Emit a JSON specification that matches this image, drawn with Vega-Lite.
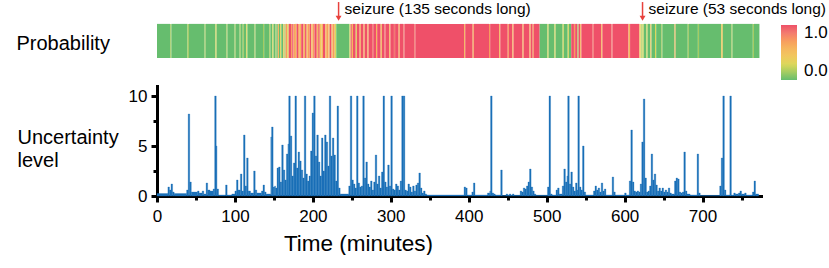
{
 "$schema": "https://vega.github.io/schema/vega-lite/v6.json",
 "padding": {"left": 16, "top": 0, "right": 0, "bottom": 0},
 "bounds": "flush",
 "spacing": 28,
 "config": {"font": "Liberation Sans", "view": {"stroke": null}},
 "datasets": {
  "ann": [{"t": 233, "label": "seizure (135 seconds long)"}, {"t": 623, "label": "seizure (53 seconds long)"}],
  "heat": [
   {"s":0,"e":17,"p":0},{"s":17,"e":18.5,"p":0.143},{"s":18.5,"e":39,"p":0},{"s":39,"e":41,"p":0.143},{"s":41,"e":61,"p":0},{"s":61,"e":62.5,"p":0.143},{"s":62.5,"e":75,"p":0},{"s":75,"e":76.5,"p":0.286},{"s":76.5,"e":89,"p":0},{"s":89,"e":90.5,"p":0.143},{"s":90.5,"e":99.5,"p":0},{"s":99.5,"e":101,"p":0.143},{"s":101,"e":106,"p":0},{"s":106,"e":107.5,"p":0.143},{"s":107.5,"e":110,"p":0},{"s":110,"e":111.5,"p":0.143},{"s":111.5,"e":114.5,"p":0},{"s":114.5,"e":116,"p":0.286},{"s":116,"e":125,"p":0},{"s":125,"e":126.5,"p":0.143},{"s":126.5,"e":136,"p":0},{"s":136,"e":137.5,"p":0.143},{"s":137.5,"e":144,"p":0},{"s":144,"e":145.5,"p":0.143},{"s":145.5,"e":148,"p":0},{"s":148,"e":149.5,"p":0.286},{"s":149.5,"e":152,"p":0},{"s":152,"e":153.5,"p":0.143},{"s":153.5,"e":155,"p":0},{"s":155,"e":156.5,"p":0.571},{"s":156.5,"e":158,"p":0},{"s":158,"e":159.5,"p":0.286},{"s":159.5,"e":162,"p":0},{"s":162,"e":163.5,"p":0.429},{"s":163.5,"e":165,"p":0.143},{"s":165,"e":167,"p":0.714},{"s":167,"e":169,"p":0.286},{"s":169,"e":172,"p":1},{"s":172,"e":173.5,"p":0.714},{"s":173.5,"e":175,"p":1},{"s":175,"e":177,"p":0.714},{"s":177,"e":179,"p":0.571},{"s":179,"e":181,"p":1},{"s":181,"e":183,"p":0.714},{"s":183,"e":185,"p":0.571},{"s":185,"e":188,"p":1},{"s":188,"e":190,"p":0.571},{"s":190,"e":192,"p":1},{"s":192,"e":193.5,"p":0.429},{"s":193.5,"e":196,"p":0.714},{"s":196,"e":198,"p":1},{"s":198,"e":199.5,"p":0.429},{"s":199.5,"e":202,"p":0.714},{"s":202,"e":205,"p":1},{"s":205,"e":206.5,"p":0.571},{"s":206.5,"e":209,"p":0.857},{"s":209,"e":211,"p":0.429},{"s":211,"e":213,"p":0.571},{"s":213,"e":216,"p":1},{"s":216,"e":218,"p":0.571},{"s":218,"e":220,"p":0.714},{"s":220,"e":221.5,"p":0.429},{"s":221.5,"e":224,"p":1},{"s":224,"e":225.5,"p":0.429},{"s":225.5,"e":228,"p":0.714},{"s":228,"e":230,"p":0.286},{"s":230,"e":247,"p":0},{"s":247,"e":248.5,"p":0.286},{"s":248.5,"e":250,"p":1},{"s":250,"e":251.5,"p":0.571},{"s":251.5,"e":255,"p":1},{"s":255,"e":256.5,"p":0.286},{"s":256.5,"e":260,"p":1},{"s":260,"e":261.5,"p":0.571},{"s":261.5,"e":265,"p":1},{"s":265,"e":266.5,"p":0.571},{"s":266.5,"e":270,"p":1},{"s":270,"e":271.5,"p":0.571},{"s":271.5,"e":276,"p":1},{"s":276,"e":277.5,"p":0.857},{"s":277.5,"e":281,"p":1},{"s":281,"e":282.5,"p":0.571},{"s":282.5,"e":287,"p":1},{"s":287,"e":288.5,"p":0.429},{"s":288.5,"e":292,"p":1},{"s":292,"e":293.5,"p":0.857},{"s":293.5,"e":298,"p":1},{"s":298,"e":299.5,"p":0.571},{"s":299.5,"e":304,"p":1},{"s":304,"e":305.5,"p":0.857},{"s":305.5,"e":310,"p":1},{"s":310,"e":311.5,"p":0.571},{"s":311.5,"e":316,"p":1},{"s":316,"e":317.5,"p":0.857},{"s":317.5,"e":330,"p":1},{"s":330,"e":331.5,"p":0.857},{"s":331.5,"e":394,"p":1},{"s":394,"e":395.5,"p":0.571},{"s":395.5,"e":405,"p":1},{"s":405,"e":406.5,"p":0.571},{"s":406.5,"e":426,"p":1},{"s":426,"e":427.5,"p":0.714},{"s":427.5,"e":439,"p":1},{"s":439,"e":440.5,"p":0.571},{"s":440.5,"e":450,"p":1},{"s":450,"e":451.5,"p":0.714},{"s":451.5,"e":456,"p":1},{"s":456,"e":457.5,"p":0.571},{"s":457.5,"e":469,"p":1},{"s":469,"e":470.5,"p":0.571},{"s":470.5,"e":478,"p":1},{"s":478,"e":479.5,"p":0.571},{"s":479.5,"e":482,"p":1},{"s":482,"e":483.5,"p":0.714},{"s":483.5,"e":491,"p":1},{"s":491,"e":501,"p":0},{"s":501,"e":502.5,"p":0.286},{"s":502.5,"e":510,"p":0},{"s":510,"e":511.5,"p":0.286},{"s":511.5,"e":520.5,"p":0},{"s":520.5,"e":522,"p":0.286},{"s":522,"e":527,"p":0},{"s":527,"e":528.5,"p":0.286},{"s":528.5,"e":531.5,"p":0},{"s":531.5,"e":535,"p":1},{"s":535,"e":536.5,"p":0.714},{"s":536.5,"e":539.5,"p":1},{"s":539.5,"e":541,"p":0.143},{"s":541,"e":543,"p":1},{"s":543,"e":544.5,"p":0.571},{"s":544.5,"e":559,"p":1},{"s":559,"e":560.5,"p":0.857},{"s":560.5,"e":570,"p":1},{"s":570,"e":571.5,"p":0.571},{"s":571.5,"e":583,"p":1},{"s":583,"e":584.5,"p":0.857},{"s":584.5,"e":605,"p":1},{"s":605,"e":607,"p":0.571},{"s":607,"e":619,"p":1},{"s":619,"e":620.5,"p":0.429},{"s":620.5,"e":621.5,"p":0.286},{"s":621.5,"e":623,"p":0.143},{"s":623,"e":624.5,"p":0.286},{"s":624.5,"e":628,"p":0},{"s":628,"e":629.5,"p":0.286},{"s":629.5,"e":633,"p":0},{"s":633,"e":634.5,"p":0.429},{"s":634.5,"e":639,"p":0},{"s":639,"e":640.5,"p":0.286},{"s":640.5,"e":647,"p":0},{"s":647,"e":648.5,"p":0.143},{"s":648.5,"e":664,"p":0},{"s":664,"e":665.5,"p":0.571},{"s":665.5,"e":681,"p":0},{"s":681,"e":682.5,"p":0.143},{"s":682.5,"e":694,"p":0},{"s":694,"e":695.5,"p":0.143},{"s":695.5,"e":724,"p":0},{"s":724,"e":726,"p":0.429},{"s":726,"e":737,"p":0},{"s":737,"e":738.5,"p":0.143},{"s":738.5,"e":764.5,"p":0},{"s":764.5,"e":766,"p":0.143},{"s":766,"e":773,"p":0}
  ],
  "bars": [
   {"s":0,"e":14,"v":0.25},{"s":14,"e":16,"v":0.9},{"s":16,"e":18,"v":0.6},{"s":18,"e":20,"v":1.2},{"s":20,"e":22,"v":0.4},{"s":22,"e":38,"v":0.25},{"s":38,"e":40,"v":0.6},{"s":40,"e":42,"v":8.2},{"s":42,"e":44,"v":1.4},{"s":44,"e":52,"v":0.4},{"s":52,"e":54,"v":0.5},{"s":54,"e":58,"v":0.3},{"s":58,"e":60,"v":0.5},{"s":60,"e":63,"v":0.2},{"s":63,"e":65,"v":1.3},{"s":65,"e":68,"v":0.6},{"s":68,"e":72,"v":0.5},{"s":72,"e":74,"v":0.7},{"s":74,"e":76,"v":10},{"s":76,"e":77,"v":5},{"s":77,"e":79,"v":0.7},{"s":79,"e":88,"v":0.1},{"s":88,"e":90,"v":1.1},{"s":90,"e":96,"v":0.1},{"s":96,"e":100,"v":0.2},{"s":100,"e":102,"v":0.5},{"s":102,"e":104,"v":1.6},{"s":104,"e":107,"v":0.6},{"s":107,"e":109,"v":2.2},{"s":109,"e":111,"v":0.5},{"s":111,"e":113,"v":6.1},{"s":113,"e":115,"v":1.0},{"s":115,"e":117,"v":3.8},{"s":117,"e":120,"v":0.5},{"s":120,"e":124,"v":0.3},{"s":124,"e":126,"v":2.5},{"s":126,"e":128,"v":0.6},{"s":128,"e":134,"v":0.3},{"s":134,"e":136,"v":0.5},{"s":136,"e":138,"v":1.1},{"s":138,"e":140,"v":0.4},{"s":140,"e":146,"v":0.2},{"s":146,"e":147,"v":5.9},{"s":147,"e":149,"v":6.9},{"s":149,"e":151,"v":0.9},
   {"s":151,"e":152,"v":1.0},{"s":152,"e":154,"v":0.8},{"s":154,"e":156,"v":2.8},{"s":156,"e":158,"v":2.9},{"s":158,"e":160,"v":1.4},{"s":160,"e":162,"v":5.1},{"s":162,"e":164,"v":2.6},{"s":164,"e":166,"v":1.6},{"s":166,"e":168,"v":4.2},{"s":168,"e":169,"v":5.2},{"s":169,"e":171,"v":10},{"s":171,"e":173,"v":6.0},{"s":173,"e":175,"v":2.0},{"s":175,"e":177,"v":3.3},{"s":177,"e":179,"v":10},{"s":179,"e":181,"v":2.8},{"s":181,"e":183,"v":4.4},{"s":183,"e":185,"v":3.5},{"s":185,"e":187,"v":2.6},{"s":187,"e":189,"v":1.8},{"s":189,"e":191,"v":10},{"s":191,"e":193,"v":2.2},{"s":193,"e":195,"v":1.5},{"s":195,"e":197,"v":2.0},{"s":197,"e":199,"v":4.5},{"s":199,"e":201,"v":8.3},{"s":201,"e":203,"v":10},{"s":203,"e":205,"v":4.0},{"s":205,"e":207,"v":6.1},{"s":207,"e":209,"v":3.4},{"s":209,"e":211,"v":2.0},{"s":211,"e":213,"v":5.8},{"s":213,"e":215,"v":2.5},{"s":215,"e":217,"v":6.1},{"s":217,"e":219,"v":5.4},{"s":219,"e":221,"v":3.0},{"s":221,"e":223,"v":10},{"s":223,"e":225,"v":4.0},{"s":225,"e":227,"v":5.8},{"s":227,"e":229,"v":4.1},{"s":229,"e":231,"v":1.5},{"s":231,"e":233,"v":9.0},{"s":233,"e":235,"v":0.8},{"s":235,"e":246,"v":0.2},
   {"s":246,"e":248,"v":1.0},{"s":248,"e":250,"v":10},{"s":250,"e":252,"v":1.6},{"s":252,"e":254,"v":1.2},{"s":254,"e":256,"v":0.8},{"s":256,"e":258,"v":10},{"s":258,"e":260,"v":1.3},{"s":260,"e":262,"v":0.9},{"s":262,"e":264,"v":1.0},{"s":264,"e":266,"v":10},{"s":266,"e":268,"v":1.8},{"s":268,"e":270,"v":3.4},{"s":270,"e":272,"v":1.2},{"s":272,"e":274,"v":0.9},{"s":274,"e":276,"v":1.5},{"s":276,"e":278,"v":0.6},{"s":278,"e":280,"v":1.4},{"s":280,"e":282,"v":4.1},{"s":282,"e":284,"v":1.2},{"s":284,"e":286,"v":2.0},{"s":286,"e":288,"v":0.8},{"s":288,"e":290,"v":2.4},{"s":290,"e":292,"v":10},{"s":292,"e":294,"v":1.4},{"s":294,"e":296,"v":0.9},{"s":296,"e":298,"v":3.1},{"s":298,"e":300,"v":1.0},{"s":300,"e":302,"v":10},{"s":302,"e":304,"v":0.7},{"s":304,"e":306,"v":0.6},{"s":306,"e":308,"v":1.2},{"s":308,"e":310,"v":1.0},{"s":310,"e":312,"v":0.6},{"s":312,"e":314,"v":1.5},{"s":314,"e":316,"v":10},{"s":316,"e":318,"v":10},{"s":318,"e":320,"v":0.6},{"s":320,"e":322,"v":0.5},{"s":322,"e":324,"v":1.2},{"s":324,"e":326,"v":0.9},{"s":326,"e":328,"v":0.4},{"s":328,"e":330,"v":1.0},{"s":330,"e":332,"v":0.5},{"s":332,"e":334,"v":1.1},{"s":334,"e":336,"v":1.3},{"s":336,"e":338,"v":2.3},{"s":338,"e":340,"v":0.8},{"s":340,"e":342,"v":0.3},{"s":342,"e":344,"v":0.5},{"s":344,"e":346,"v":0.2},{"s":346,"e":394,"v":0.1},
   {"s":394,"e":396,"v":0.9},{"s":396,"e":398,"v":0.8},{"s":398,"e":404,"v":0.1},{"s":404,"e":406,"v":0.4},{"s":406,"e":408,"v":1.3},{"s":408,"e":424,"v":0.1},{"s":424,"e":427,"v":0.3},{"s":427,"e":428,"v":0.5},{"s":428,"e":430,"v":10},{"s":430,"e":432,"v":0.3},{"s":432,"e":434,"v":0.2},{"s":434,"e":441,"v":0.1},{"s":441,"e":443,"v":2.6},{"s":443,"e":448,"v":0.05},{"s":448,"e":450,"v":0.2},{"s":450,"e":452,"v":0.08},{"s":452,"e":454,"v":0.2},{"s":454,"e":456,"v":0.08},{"s":456,"e":458,"v":0.2},{"s":458,"e":466,"v":0.08},{"s":466,"e":468,"v":0.5},{"s":468,"e":470,"v":0.4},{"s":470,"e":472,"v":0.8},{"s":472,"e":474,"v":0.7},{"s":474,"e":476,"v":1.0},{"s":476,"e":478,"v":1.4},{"s":478,"e":480,"v":2.7},{"s":480,"e":482,"v":0.9},{"s":482,"e":484,"v":0.5},{"s":484,"e":486,"v":0.2},{"s":486,"e":501,"v":0.08},{"s":501,"e":503,"v":0.9},{"s":503,"e":505,"v":10},{"s":505,"e":507,"v":0.2},{"s":507,"e":512,"v":0.1},{"s":512,"e":514,"v":0.6},{"s":514,"e":516,"v":0.8},{"s":516,"e":520,"v":0.2},{"s":520,"e":522,"v":1.0},{"s":522,"e":524,"v":2.7},{"s":524,"e":526,"v":1.4},{"s":526,"e":527,"v":2.0},{"s":527,"e":529,"v":10},{"s":529,"e":531,"v":1.2},{"s":531,"e":533,"v":2.4},{"s":533,"e":535,"v":0.9},{"s":535,"e":537,"v":0.5},{"s":537,"e":539,"v":1.3},{"s":539,"e":540,"v":0.6},{"s":540,"e":542,"v":10},{"s":542,"e":544,"v":0.9},{"s":544,"e":546,"v":0.6},{"s":546,"e":548,"v":5.0},{"s":548,"e":550,"v":0.4},{"s":550,"e":560,"v":0.1},{"s":560,"e":562,"v":0.5},{"s":562,"e":564,"v":1.0},{"s":564,"e":566,"v":0.6},{"s":566,"e":568,"v":0.8},{"s":568,"e":570,"v":0.4},{"s":570,"e":572,"v":1.3},{"s":572,"e":574,"v":0.5},{"s":574,"e":576,"v":0.7},{"s":576,"e":584,"v":0.1},{"s":584,"e":586,"v":1.9},{"s":586,"e":588,"v":0.4},{"s":588,"e":600,"v":0.1},{"s":600,"e":602,"v":0.3},{"s":602,"e":606,"v":0.1},{"s":606,"e":608,"v":1.5},{"s":608,"e":610,"v":6.6},{"s":610,"e":612,"v":1.4},{"s":612,"e":614,"v":0.5},{"s":614,"e":616,"v":0.4},{"s":616,"e":618,"v":0.5},{"s":618,"e":620,"v":0.4},{"s":620,"e":622,"v":1.2},{"s":622,"e":624,"v":5.4},{"s":624,"e":626,"v":9.7},{"s":626,"e":628,"v":1.8},{"s":628,"e":630,"v":0.4},{"s":630,"e":632,"v":0.5},{"s":632,"e":634,"v":1.0},{"s":634,"e":636,"v":4.2},{"s":636,"e":638,"v":1.6},{"s":638,"e":640,"v":2.2},{"s":640,"e":642,"v":1.1},{"s":642,"e":644,"v":0.5},{"s":644,"e":646,"v":0.8},{"s":646,"e":648,"v":0.5},{"s":648,"e":650,"v":0.8},{"s":650,"e":652,"v":0.4},{"s":652,"e":654,"v":0.6},{"s":654,"e":656,"v":0.4},{"s":656,"e":658,"v":0.8},{"s":658,"e":660,"v":0.3},{"s":660,"e":664,"v":0.2},{"s":664,"e":666,"v":1.5},{"s":666,"e":668,"v":1.8},{"s":668,"e":670,"v":1.7},{"s":670,"e":672,"v":0.4},{"s":672,"e":674,"v":0.3},{"s":674,"e":676,"v":0.4},{"s":676,"e":678,"v":4.4},{"s":678,"e":680,"v":0.5},{"s":680,"e":684,"v":0.2},{"s":684,"e":693,"v":0.1},{"s":693,"e":695,"v":4.2},{"s":695,"e":697,"v":0.3},{"s":697,"e":722,"v":0.06},{"s":722,"e":724,"v":1.0},{"s":724,"e":726,"v":3.8},{"s":726,"e":728,"v":10},{"s":728,"e":730,"v":0.6},{"s":730,"e":735,"v":0.1},{"s":735,"e":737,"v":10},{"s":737,"e":740,"v":0.1},{"s":740,"e":742,"v":0.3},{"s":742,"e":746,"v":0.2},{"s":746,"e":748,"v":0.3},{"s":748,"e":750,"v":0.5},{"s":750,"e":754,"v":0.2},{"s":754,"e":756,"v":0.3},{"s":756,"e":764,"v":0.1},{"s":764,"e":766,"v":0.4},{"s":766,"e":768,"v":1.5},{"s":768,"e":772,"v":0.2}
  ]
 },
 "vconcat": [
  {
   "width": 604,
   "height": 58,
   "layer": [
    {
     "data": {"name": "heat"},
     "mark": {"type": "rect"},
     "encoding": {
      "x": {"field": "s", "type": "quantitative", "scale": {"domain": [0, 775], "nice": false, "zero": false}, "axis": null},
      "x2": {"field": "e"},
      "y": {"datum": 0, "type": "quantitative", "scale": {"domain": [0, 1.7], "nice": false, "zero": false},
        "axis": {"title": "Probability", "domain": false, "ticks": false, "labels": false, "grid": false, "titleAngle": 0, "titleAlign": "left", "titleBaseline": "alphabetic", "titleX": -141, "titleY": 49, "titleFontSize": 20, "titleFontWeight": "normal", "titleColor": "black", "titleFont": "Liberation Sans"}},
      "y2": {"datum": 1},
      "color": {"field": "p", "type": "quantitative",
        "scale": {"type": "linear", "domain": [0, 1], "nice": false, "range": ["#66bd6e", "#a4cc62", "#dcd75c", "#f1c85e", "#f5b65e", "#f79c5e", "#f27a70", "#ef5069"]},
        "legend": {"type": "gradient", "orient": "none", "legendX": 624, "legendY": 25, "direction": "vertical", "gradientLength": 55, "gradientThickness": 16, "title": null, "labelExpr": "datum.value === 0 ? '0.0' : (datum.value === 1 ? '1.0' : '')", "labelFontSize": 17, "labelColor": "black", "labelFont": "Liberation Sans", "labelOffset": 7, "gradientStrokeWidth": 0, "labelOverlap": false}}
     }
    },
    {
     "data": {"name": "ann"},
     "mark": {"type": "rule", "color": "#e8413c", "strokeWidth": 1.5},
     "encoding": {"x": {"field": "t", "type": "quantitative"}, "y": {"datum": 1.64}, "y2": {"datum": 1.2}}
    },
    {
     "data": {"name": "ann"},
     "mark": {"type": "point", "shape": "triangle-down", "filled": true, "color": "#e8413c", "size": 35, "opacity": 1},
     "encoding": {"x": {"field": "t", "type": "quantitative"}, "y": {"datum": 1.165}}
    },
    {
     "data": {"name": "ann"},
     "mark": {"type": "text", "align": "left", "baseline": "middle", "dx": 6, "fontSize": 15.5, "color": "black", "font": "Liberation Sans"},
     "encoding": {"x": {"field": "t", "type": "quantitative"}, "y": {"datum": 1.45}, "text": {"field": "label"}}
    }
   ]
  },
  {
   "width": 604,
   "height": 110,
   "data": {"name": "bars"},
   "mark": {"type": "rect", "color": "#1a70b8", "stroke": "#1a70b8", "strokeWidth": 0.3},
   "encoding": {
    "x": {"field": "s", "type": "quantitative", "scale": {"domain": [0, 775], "nice": false, "zero": false},
      "axis": {"values": [0, 50, 100, 150, 200, 250, 300, 350, 400, 450, 500, 550, 600, 650, 700, 750],
        "labelExpr": "datum.value % 100 === 0 ? format(datum.value, 'd') : ''",
        "tickSize": {"condition": {"test": "datum.value % 100 === 0", "value": 6}, "value": 4},
        "tickWidth": 3, "tickColor": "black", "domainWidth": 3, "domainColor": "black", "domainCap": "square",
        "labelFontSize": 17, "labelColor": "black", "labelFont": "Liberation Sans", "labelPadding": 6, "labelFlush": false, "labelOverlap": false, "grid": false,
        "title": "Time (minutes)", "titleFontSize": 22.5, "titleFontWeight": "normal", "titleColor": "black", "titleFont": "Liberation Sans", "titleX": 201, "titleY": 54, "titleBaseline": "alphabetic", "titleAlign": "center"}},
    "x2": {"field": "e"},
    "y": {"field": "v", "type": "quantitative", "scale": {"domain": [0, 11], "nice": false},
      "axis": {"values": [0, 2.5, 5, 7.5, 10],
        "labelExpr": "datum.value % 5 === 0 ? format(datum.value, 'd') : ''",
        "tickSize": {"condition": {"test": "datum.value % 5 === 0", "value": 6}, "value": 4},
        "tickWidth": 3, "tickColor": "black", "domainWidth": 3, "domainColor": "black", "domainCap": "square",
        "labelFontSize": 17, "labelColor": "black", "labelFont": "Liberation Sans", "labelPadding": 4, "labelFlush": false, "labelOverlap": false, "grid": false,
        "title": ["Uncertainty", "level"], "titleAngle": 0, "titleAlign": "left", "titleBaseline": "alphabetic", "titleX": -140, "titleY": 57, "titleFontSize": 20, "titleLineHeight": 23, "titleFontWeight": "normal", "titleColor": "black", "titleFont": "Liberation Sans"}},
    "y2": {"datum": 0}
   }
  }
 ]
}
